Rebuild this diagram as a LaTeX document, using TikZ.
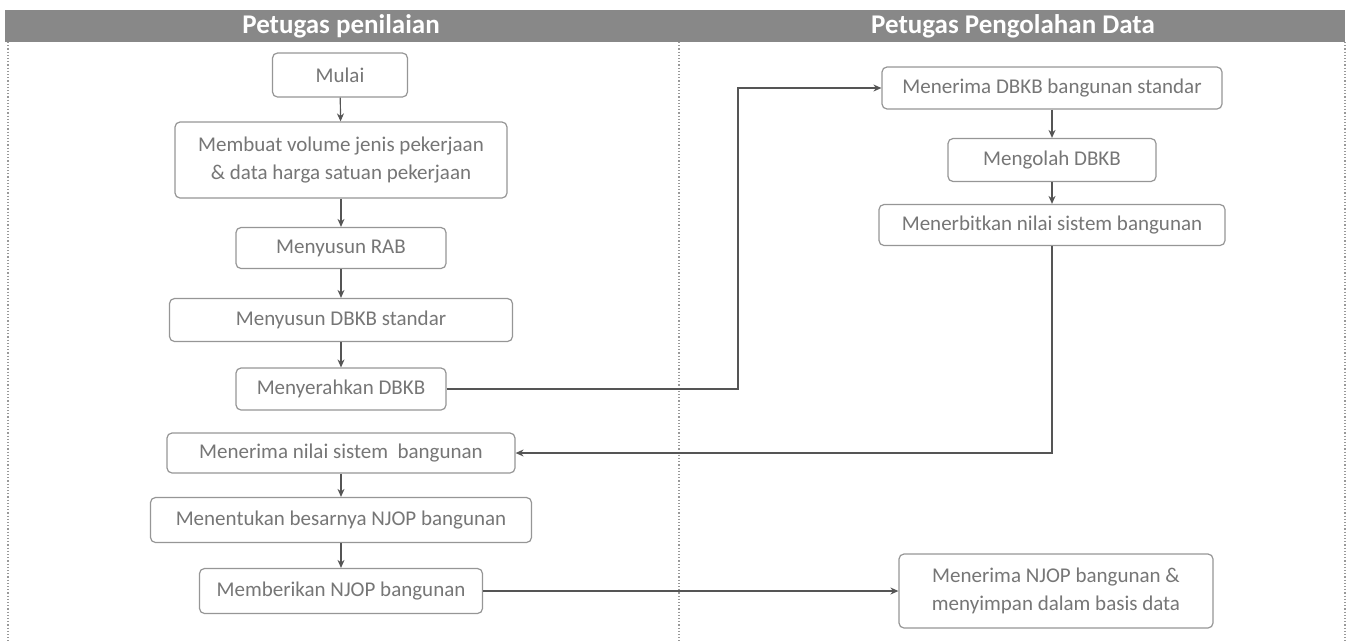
\documentclass[tikz,border=0pt]{standalone}
\usepackage{fontspec}
\setmainfont{Carlito}
\usetikzlibrary{arrows.meta}
\definecolor{headgray}{RGB}{136,136,136}
\definecolor{boxline}{RGB}{150,150,150}
\definecolor{boxtext}{RGB}{118,118,118}
\definecolor{flowline}{RGB}{85,85,85}

\begin{document}
\begin{tikzpicture}[x=1pt, y=-1pt, >={Stealth[length=8pt, width=7pt]},
    stepbox/.style={draw=boxline, line width=1.2pt, rounded corners=5pt, fill=white, text=boxtext, align=center, inner sep=0pt, font=\fontsize{21}{28}\selectfont},
    lanetitle/.style={text=white, font=\fontsize{27}{30}\selectfont\bfseries},
    laneline/.style={draw=gray!80, dotted, line width=1.2pt},
    flow/.style={->, draw=flowline, line width=1.2pt}]

    \useasboundingbox (0,0) rectangle (1347,641);

    % header band and lanes
    \fill[headgray] (5,10) rectangle (1345,42);
    \node[lanetitle] (penilai) at (341,26) {Petugas penilaian};
    \node[lanetitle] (pengolah) at (1013,26) {Petugas Pengolahan Data};
    \draw[laneline] (8,42) -- (8,641);
    \draw[laneline] (679,42) -- (679,641);
    \draw[laneline] (1345,42) -- (1345,641);

    % Petugas penilaian
    \node[stepbox, minimum width=135pt, minimum height=44pt] (mulai) at (340,75) {Mulai};
    \node[stepbox, minimum width=332pt, minimum height=76pt] (volume) at (341,160) {Membuat volume jenis pekerjaan\\\& data harga satuan pekerjaan};
    \node[stepbox, minimum width=210pt, minimum height=41pt] (rab) at (341,248) {Menyusun RAB};
    \node[stepbox, minimum width=343pt, minimum height=43pt] (dbkb) at (341,320) {Menyusun DBKB standar};
    \node[stepbox, minimum width=210pt, minimum height=42pt] (serah) at (341,389) {Menyerahkan DBKB};
    \node[stepbox, minimum width=348pt, minimum height=40pt] (terimanilai) at (341,453) {Menerima nilai sistem\ \ bangunan};
    \node[stepbox, minimum width=381pt, minimum height=45pt] (tentukan) at (341,520) {Menentukan besarnya NJOP bangunan};
    \node[stepbox, minimum width=283pt, minimum height=45pt] (beri) at (341,591) {Memberikan NJOP bangunan};

    % Petugas Pengolahan Data
    \node[stepbox, minimum width=340pt, minimum height=42pt] (terimadbkb) at (1052,88) {Menerima DBKB bangunan standar};
    \node[stepbox, minimum width=208pt, minimum height=43pt] (olah) at (1052,160) {Mengolah DBKB};
    \node[stepbox, minimum width=346pt, minimum height=41pt] (terbit) at (1052,225) {Menerbitkan nilai sistem bangunan};
    \node[stepbox, minimum width=314pt, minimum height=74pt] (simpan) at (1056,591) {Menerima NJOP bangunan \&\\menyimpan dalam basis data};

    \coordinate (naik) at (738,389);

\path[flow]
        (mulai) edge (volume)
        (volume) edge (rab)
        (rab) edge (dbkb)
        (dbkb) edge (serah)
        (terimanilai) edge (tentukan)
        (tentukan) edge (beri)
        (terimadbkb) edge (olah)
        (olah) edge (terbit)
        (beri) edge (simpan)
;
    \draw[flow] (serah) -- (naik) |- (terimadbkb);
    \draw[flow] (terbit) |- (terimanilai);
\end{tikzpicture}
\end{document}
